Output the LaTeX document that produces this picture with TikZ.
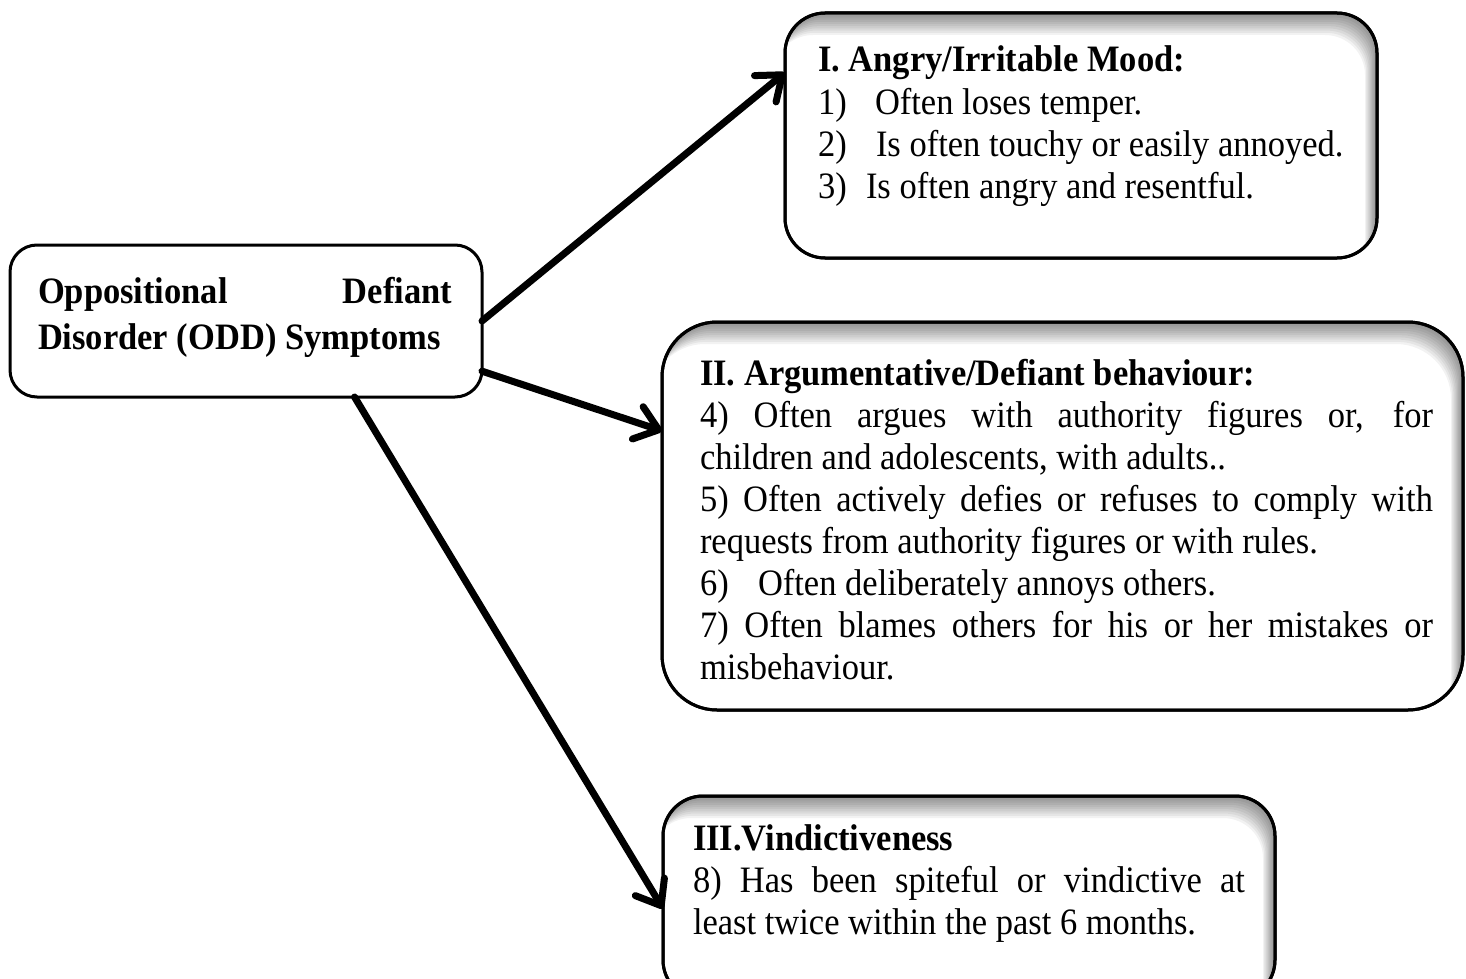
\documentclass[tikz,border=0pt]{standalone}
\usepackage{fontspec}
\usepackage{graphicx}
\setmainfont{Liberation Serif}
\usetikzlibrary{arrows.meta,calc}
\newcommand{\innershade}[2]{%
  \begin{scope}
    \clip[rounded corners=#2] (#1.south west) rectangle (#1.north east);
    \foreach \s in {1,...,10}{
      \fill[black, opacity=0.05, even odd rule, rounded corners=#2]
        (-200,-200) rectangle (1700,1200)
        ([shift={(-1.2*\s,2.2*\s)}]#1.south west) rectangle ([shift={(-1.2*\s,2.2*\s)}]#1.north east);
    }
  \end{scope}
  \draw[boxline, rounded corners=#2] (#1.south west) rectangle (#1.north east);
}
\newcommand{\tall}[1]{\scalebox{1}[1.08]{#1}}
\begin{document}
\begin{tikzpicture}[x=1pt,y=-1pt,
  boxline/.style={draw=black, line width=3pt},
  box/.style={boxline, fill=white, inner sep=0pt, outer sep=0pt},
  arr/.style={line width=7pt, line cap=round, line join=round,
    -{Straight Barb[length=22pt,width=34pt,round]}},
  txt/.style={inner sep=0pt, outer sep=0pt, anchor=base west,
    font=\fontsize{34.5pt}{38.9pt}\selectfont}
]
\useasboundingbox (0,0) rectangle (1466,979);
\clip (0,0) rectangle (1466,979);

% boxes
\node[box, rounded corners=27pt, minimum width=472pt, minimum height=152pt] (odd) at (246,321) {};
\node[box, rounded corners=40pt, minimum width=592pt, minimum height=245pt] (b1) at (1081,135.5) {};
\node[box, rounded corners=55pt, minimum width=801pt, minimum height=388pt] (b2) at (1062.5,516) {};
\node[box, rounded corners=40pt, minimum width=612pt, minimum height=204pt] (b3) at (969,898) {};

\innershade{b1}{40pt}
\innershade{b2}{55pt}
\innershade{b3}{40pt}

% texts
\node[txt] (toddd) at (38,303) {\tall{\vtop{\baselineskip=43.5pt
  \hbox to 414pt{\bfseries Oppositional\hfill Defiant}
  \hbox{\bfseries Disorder (ODD) Symptoms}}}};

\node[txt] (t1) at (818,72) {\tall{\vtop{
  \hbox{\bfseries I. Angry/Irritable Mood:}
  \hbox{\hbox to 57pt{1)\hfil}Often loses temper.}
  \hbox{\hbox to 58pt{2)\hfil}Is often touchy or easily annoyed.}
  \hbox{\hbox to 48pt{3)\hfil}Is often angry and resentful.}}}};

\node[txt] (t2) at (700,385) {\tall{\vtop{
  \hbox{\bfseries II. Argumentative/Defiant behaviour:}
  \hbox to 733pt{4) Often argues with authority figures or, for}
  \hbox{children and adolescents, with adults..}
  \hbox to 733pt{5) Often actively defies or refuses to comply with}
  \hbox{requests from authority figures or with rules.}
  \hbox{\hbox to 58pt{6)\hfil}Often deliberately annoys others.}
  \hbox to 733pt{7) Often blames others for his or her mistakes or}
  \hbox{misbehaviour.}}}};

\node[txt] (t3) at (693,850) {\tall{\vtop{
  \hbox{\bfseries III.Vindictiveness}
  \hbox to 552pt{8) Has been spiteful or vindictive at}
  \hbox{least twice within the past 6 months.}}}};

% connectors
\draw[arr] (odd.east) -- (b1.168.9);
\draw[arr] (odd.-12.2) -- (b2.168.25);
\draw[arr] (odd.-35.3) -- (b3.-178.7);
\end{tikzpicture}
\end{document}
